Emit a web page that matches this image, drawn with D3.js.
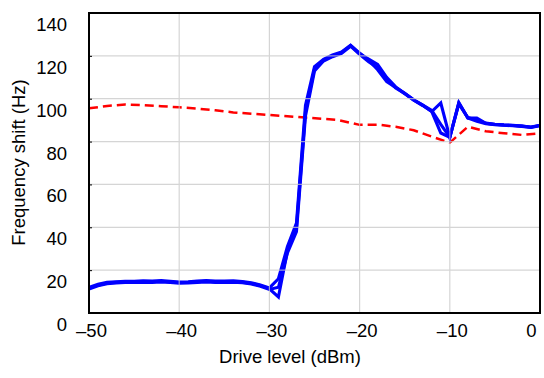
<!DOCTYPE html>
<html><head><meta charset="utf-8">
<script src="https://cdn.jsdelivr.net/npm/d3@7"></script>
<style>
html,body{margin:0;padding:0;background:#fff;}
text{font-family:"Liberation Sans",Arial,Helvetica,sans-serif;}
</style></head>
<body><svg id="c" width="544" height="378"></svg>
<script>
// Drive level (dBm) sample points
const driveLevels = [-50,-49,-48,-47,-46,-45,-44,-43,-42,-41,-40,-39,-38,-37,-36,-35,-34,-33,-32,-31,-30,
  -29,-28,-27,-26,-25,-24,-23,-22,-21,-20,-19,-18,-17,-16,-15,-14,-13,-12,-11,-10,-9,-8,-7,-6,-5,-4,-3,-2,-1,0];
// Three overlapping measured runs (blue)
const runA = [11.5,13,14,14.3,14.5,14.5,14.7,14.6,14.8,14.5,14.2,14.3,14.6,14.8,14.6,14.6,14.7,14.4,13.8,12.8,11.3,
  7.5,29,40,94,114,118,120,121.5,124.8,121,118.5,116,110,105.5,102.5,99.5,97,94,98,82,98,91,91,88.5,88,87.7,87.5,87.2,86.7,87.5];
const runB = [12,13.4,14.3,14.6,14.8,14.8,15,14.9,15.1,14.8,14.5,14.6,14.9,15.1,14.9,14.9,15,14.7,14.1,13.1,11.7,
  16,31,42,97,115,118.4,120.4,121.8,125,121.3,118,113.5,108,105.3,102.3,99.3,96.8,94,84,82,98.2,91,89.5,88.3,87.9,87.6,87.4,87.1,86.6,87.4];
const runC = [11.2,12.7,13.7,14,14.2,14.2,14.4,14.3,14.5,14.2,13.9,14,14.3,14.5,14.3,14.3,14.4,14.1,13.5,12.5,11,
  12,28,38,92,113,117.6,119.6,121.1,124.5,120.7,117.3,114.5,109,105,102.5,99.4,97,94.5,88,82,97.6,91.2,90,88.6,88.1,87.8,87.6,87.3,86.8,87.6];
// Reference curve (red dashed)
const refLevels = [-50,-48,-46,-44,-42,-40,-38,-36,-34,-32,-30,-28,-26,-24,-22.4,-20,-18,-16,-14,-12,-10,-8,-6,-4,-2,0];
const refShift  = [95.5,96.6,97.3,97,96.5,96,95.4,94.6,93.6,93,92.4,91.8,91.2,90.6,90.1,87.8,87.9,86.9,85.3,82.3,79.5,86.9,84.8,83.9,83.1,83.8];
// Axis ticks
const xTicks = [-50,-40,-30,-20,-10,0];
const yTicks = [0,20,40,60,80,100,120,140];

const svg = d3.select("#c");
const L=89, R=540, T=13, B=313;
const x = d3.scaleLinear().domain([-50,0]).range([L,R]);
const y = d3.scaleLinear().domain([0,140]).range([B,T]);

const line = d3.line().x(d=>x(d[0])).y(d=>y(d[1]));
svg.append("clipPath").attr("id","pc").append("rect")
  .attr("x",L).attr("y",T).attr("width",R-L).attr("height",B-T);

const g = svg.append("g").attr("clip-path","url(#pc)");
// red dashed
g.append("path").datum(refLevels.map((v,i)=>[v,refShift[i]]))
  .attr("d",line).attr("fill","none").attr("stroke","#ff0000")
  .attr("stroke-width",2.5).attr("stroke-dasharray","9,5");
// blue runs
[runA,runB,runC].forEach(run=>{
  g.append("path").datum(driveLevels.map((v,i)=>[v,run[i]]))
    .attr("d",line).attr("fill","none").attr("stroke","#0000ff")
    .attr("stroke-width",3.1).attr("stroke-linejoin","miter");
});

// grid (on top, light)
const grid = svg.append("g").attr("stroke","#c8c8c8").attr("stroke-width",1.2).attr("opacity",0.75);
xTicks.slice(1,-1).forEach(t=>grid.append("line").attr("x1",x(t)).attr("x2",x(t)).attr("y1",T).attr("y2",B));
yTicks.slice(1,-1).forEach(t=>grid.append("line").attr("x1",L).attr("x2",R).attr("y1",y(t)).attr("y2",y(t)));

// axes via d3
const yAxis = d3.axisLeft(y).tickValues(yTicks).tickSize(-3).tickPadding(22).tickFormat(d3.format("d"));
const ya = svg.append("g").attr("transform",`translate(${L},0)`).call(yAxis);
ya.select(".domain").remove();
ya.selectAll("line").attr("stroke","#000").attr("stroke-width",1);
ya.selectAll("text").attr("font-size","18.5px").attr("fill","#000")
  .attr("dy",null).attr("y",17.5).attr("x",-22);

const xAxis = d3.axisBottom(x).tickValues(xTicks).tickSize(0).tickPadding(0)
  .tickFormat(d=>d<0?"\u2013"+Math.abs(d):String(d));
const xa = svg.append("g").attr("transform",`translate(0,${B})`).call(xAxis);
xa.select(".domain").remove();
xa.selectAll("text").attr("font-size","18.5px").attr("fill","#000")
  .attr("dy",null).attr("y",24)
  .attr("x",d=>d===0?-9:2);

// frame
svg.append("rect").attr("x",L).attr("y",T).attr("width",R-L).attr("height",B-T)
  .attr("fill","none").attr("stroke","#000").attr("stroke-width",2);

// axis titles
svg.append("text").attr("x",290).attr("y",363).attr("text-anchor","middle")
  .attr("font-size","18.5px").text("Drive level (dBm)");
svg.append("text").attr("transform","translate(25,162.5) rotate(-90)").attr("text-anchor","middle")
  .attr("font-size","18.5px").text("Frequency shift (Hz)");
</script></body></html>
